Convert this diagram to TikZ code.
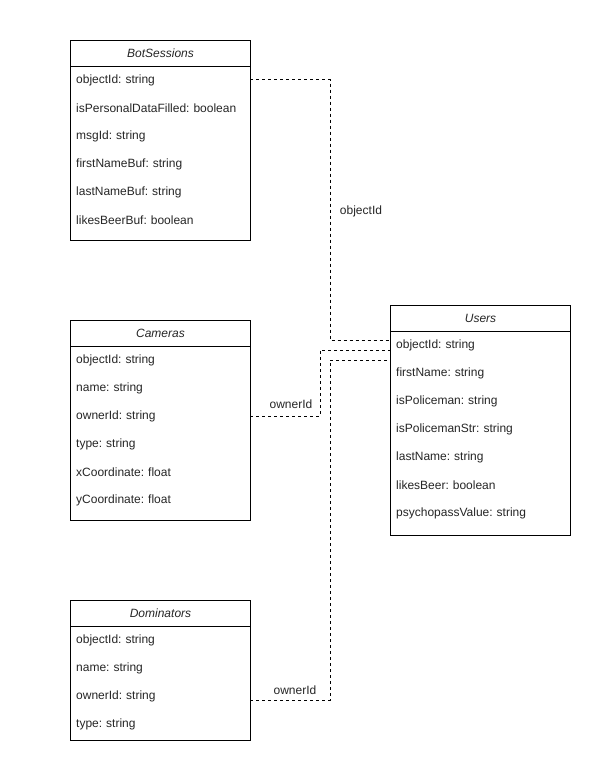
\documentclass[tikz,border=0pt]{standalone}
\usepackage{fontspec}
\setmainfont{Liberation Sans}
\frenchspacing
\begin{document}
\begin{tikzpicture}[x=1pt,y=-1pt,
  every node/.style={font=\fontsize{12}{14}\selectfont, text=black!85},
  head/.style={draw, line width=1pt, minimum width=180pt, minimum height=26pt,
    inner sep=0pt, anchor=north west, font=\fontsize{12}{14}\selectfont\itshape},
  row/.style={text width=168pt, inner xsep=6pt, inner ysep=0pt, minimum height=28pt,
    anchor=north west, align=left},
  box/.style={draw, line width=1pt},
  rel/.style={draw, line width=1pt, dash pattern=on 3pt off 3pt},
  lbl/.style={inner sep=1pt}]
\useasboundingbox[fill=white] (0,0) rectangle (611,771);

% BotSessions
\draw[box] (70,40) rectangle ++(180,200);
\node[head] (bs) at (70,40) {BotSessions};
\foreach \t [count=\i] in {objectId: string, isPersonalDataFilled: boolean, msgId: string,
  firstNameBuf: string, lastNameBuf: string, likesBeerBuf: boolean}
  \node[row] (bs\i) at (70,{66+(\i-1)*28}) {\t};

% Cameras
\draw[box] (70,320) rectangle ++(180,200);
\node[head] (cam) at (70,320) {Cameras};
\foreach \t [count=\i] in {objectId: string, name: string, ownerId: string,
  type: string, xCoordinate: float, yCoordinate: float}
  \node[row] (cam\i) at (70,{346+(\i-1)*28}) {\t};

% Dominators
\draw[box] (70,600) rectangle ++(180,140);
\node[head] (dom) at (70,600) {Dominators};
\foreach \t [count=\i] in {objectId: string, name: string, ownerId: string, type: string}
  \node[row] (dom\i) at (70,{626+(\i-1)*28}) {\t};

% Users
\draw[box] (390,305) rectangle ++(180,230);
\node[head] (us) at (390,305) {Users};
\foreach \t [count=\i] in {objectId: string, firstName: string, isPoliceman: string,
  isPolicemanStr: string, lastName: string, likesBeer: boolean, psychopassValue: string}
  \node[row] (us\i) at (390,{331+(\i-1)*28}) {\t};

% relation end points on the Users box and the vertical runs
\coordinate (uA) at (390,340);
\coordinate (uB) at (390,350);
\coordinate (uC) at (390,360);
\coordinate (vA) at (330,0);
\coordinate (vB) at (320,0);
\coordinate (vC) at (330,0);

\draw[rel] ([yshift=1pt]bs1.east) -| (uA -| vA) -- (uA);
\draw[rel] (cam3.east) -| (uB -| vB) -- (uB);
\draw[rel] ([yshift=-4pt]dom3.east) -| (uC -| vC) -- (uC);

\node[lbl] (l1) at (361,211) {objectId};
\node[lbl] (l2) at (291,404) {ownerId};
\node[lbl] (l3) at (295,690) {ownerId};
\end{tikzpicture}
\end{document}
